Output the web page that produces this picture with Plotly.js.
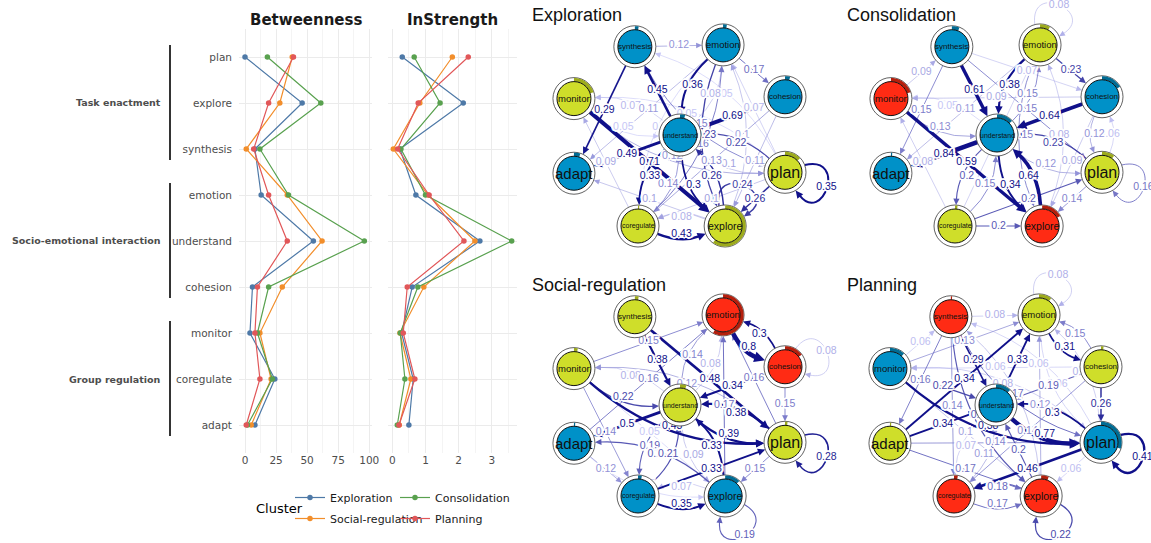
<!DOCTYPE html>
<html><head><meta charset="utf-8">
<script src="https://cdn.plot.ly/plotly-3.0.1.min.js"></script>
<style>html,body{margin:0;padding:0;background:#fff}#chart{width:1151px;height:543px}</style>
</head><body><div id="chart"></div>
<script>
// ---------------- Centrality panel data ----------------
const categories = ['plan','explore','synthesis','emotion','understand','cohesion','monitor','coregulate','adapt'];
const groupLabels = ['Task enactment','Socio-emotional interaction','Group regulation'];
const groupFirst = [0,3,6];
const groupLast = [2,5,8];
const clusterNames = ['Exploration','Social-regulation','Consolidation','Planning'];
const betweenExploration   = [0,46,8,13,55,6,4,24,8];
const betweenConsolidation = [18,61,12,35,96,19,10,22,2];
const betweenSocial        = [38,28,1,34,62,30,12,21,5];
const betweenPlanning      = [39,19,7,19,34,10,8,12,1];
const strengthExploration   = [0.30,2.14,0.23,0.71,2.64,0.60,0.28,0.63,0.50];
const strengthConsolidation = [0.66,1.44,0.26,1.00,3.60,0.77,0.24,0.38,0.15];
const strengthSocial        = [1.81,0.83,0.03,1.08,2.49,0.95,0.23,0.56,0.21];
const strengthPlanning      = [2.29,0.78,0.16,1.11,2.16,0.45,0.33,0.68,0.20];
const betweenTicks = [0,25,50,75,100];
const strengthTicks = [0,1,2,3];

// ---------------- Network data ----------------
const nodeNames = ['synthesis','emotion','cohesion','monitor','understand','adapt','plan','coregulate','explore'];
const layoutX = [-0.43, 0.41, 1, -1.01, 0, -1.01, 1, -0.4, 0.43];
const layoutY = [-0.97, -0.99, -0.42, -0.4, 0, 0.42, 0.41, 1, 1];

const explorationGroups   = [1,1,1,2,1,1,2,2,2];
const consolidationGroups = [1,2,1,3,1,1,2,2,3];
const socialGroups        = [2,3,3,2,2,1,2,1,1];
const planningGroups      = [3,2,2,1,1,2,1,3,3];

const explorationPie   = [0.03,0.03,0.04,0.2,0.04,0.05,0.13,0.01,0.6];
const consolidationPie = [0.06,0.08,0.17,0.2,0.13,0.01,0.1,0.02,0.17];
const socialPie        = [0.03,0.58,0.15,0.03,0.05,0.01,0.02,0.03,0.12];
const planningPie      = [0.01,0.1,0.02,0.12,0.12,0.01,0.3,0.03,0.06];

const explorationEdges = [
 ['synthesis','emotion',0.12],['synthesis','adapt',0.29],['understand','synthesis',0.45],
 ['emotion','understand',0.36],['understand','emotion',0.08],['emotion','cohesion',0.17],
 ['understand','cohesion',0.69],['plan','emotion',0.07],['understand','monitor',0.07],
 ['monitor','understand',0.05],['emotion','adapt',0.11],['coregulate','monitor',0.09],
 ['understand','adapt',0.49],['monitor','explore',0.71],['understand','coregulate',0.33],
 ['coregulate','understand',0.14],['understand','explore',0.3],['explore','understand',0.26],
 ['explore','adapt',0.1],['explore','coregulate',0.08],['coregulate','explore',0.43],
 ['cohesion','coregulate',0.13],['understand','plan',0.1],['plan','understand',0.22],
 ['emotion','explore',0.23],['explore','emotion',0.1],['synthesis','plan',0.15],['plan','synthesis',0.05],
 ['coregulate','emotion',0.16],['emotion','coregulate',0.05],['cohesion','explore',0.11],
 ['plan','explore',0.26],['plan','coregulate',0.1],['monitor','plan',0.12],['plan','monitor',0.05],
 ['plan','plan',0.35],['explore','explore',0.24]
];
const consolidationEdges = [
 ['emotion','emotion',0.08],['monitor','synthesis',0.09],['synthesis','understand',0.61],
 ['emotion','understand',0.38],['understand','emotion',0.15],['synthesis','cohesion',0.07],
 ['cohesion','monitor',0.09],['emotion','adapt',0.11],['synthesis','adapt',0.15],
 ['understand','monitor',0.05],['monitor','understand',0.13],['understand','adapt',0.84],
 ['coregulate','monitor',0.08],['monitor','explore',0.59],['understand','coregulate',0.2],
 ['coregulate','understand',0.15],['understand','explore',0.34],['explore','understand',0.64],
 ['cohesion','understand',0.64],['synthesis','plan',0.15],['emotion','explore',0.15],
 ['explore','emotion',0.08],['plan','understand',0.23],['understand','plan',0.12],
 ['emotion','cohesion',0.23],['cohesion','plan',0.12],['plan','cohesion',0.06],
 ['cohesion','explore',0.09],['coregulate','plan',0.2],['plan','explore',0.14],
 ['coregulate','explore',0.2],['plan','plan',0.16],['coregulate','emotion',0.07]
];
const socialEdges = [
 ['monitor','emotion',0.15],['synthesis','understand',0.38],['emotion','understand',0.14],
 ['understand','emotion',0.08],['emotion','cohesion',0.8],['cohesion','emotion',0.3],
 ['cohesion','cohesion',0.08],['synthesis','plan',0.48],['cohesion','understand',0.34],
 ['plan','emotion',0.16],['understand','monitor',0.08],['monitor','understand',0.22],
 ['adapt','emotion',0.16],['plan','monitor',0.12],['monitor','plan',0.43],
 ['explore','emotion',0.17],['understand','plan',0.39],['plan','understand',0.38],
 ['cohesion','plan',0.15],['understand','adapt',0.5],['monitor','coregulate',0.14],
 ['monitor','explore',0.05],['understand','coregulate',0.19],['coregulate','understand',0.21],
 ['explore','adapt',0.2],['adapt','explore',0.05],['understand','explore',0.09],
 ['explore','understand',0.33],['adapt','coregulate',0.12],['coregulate','plan',0.33],
 ['plan','explore',0.15],['coregulate','explore',0.35],['explore','coregulate',0.07],
 ['explore','explore',0.19],['plan','plan',0.28]
];
const planningEdges = [
 ['emotion','emotion',0.08],['synthesis','emotion',0.08],['monitor','synthesis',0.06],
 ['monitor','emotion',0.13],['synthesis','understand',0.29],['understand','emotion',0.33],
 ['emotion','cohesion',0.31],['cohesion','emotion',0.15],['cohesion','monitor',0.06],
 ['plan','monitor',0.08],['monitor','plan',0.38],['synthesis','adapt',0.16],
 ['adapt','emotion',0.34],['monitor','understand',0.22],['synthesis','coregulate',0.14],
 ['synthesis','plan',0.17],['plan','synthesis',0.06],['cohesion','understand',0.19],
 ['emotion','plan',0.06],['plan','emotion',0.08],['explore','emotion',0.12],
 ['understand','plan',0.77],['plan','understand',0.3],['cohesion','plan',0.26],
 ['plan','plan',0.41],['explore','understand',0.2],['synthesis','explore',0.2],
 ['explore','synthesis',0.1],['adapt','understand',0.34],['monitor','explore',0.1],
 ['understand','coregulate',0.07],['coregulate','understand',0.11],['adapt','plan',0.14],
 ['cohesion','coregulate',0.14],['adapt','explore',0.17],['plan','coregulate',0.46],
 ['plan','explore',0.06],['coregulate','explore',0.17],['explore','coregulate',0.18],
 ['explore','explore',0.22]
];

// ---------------- Styles ----------------
const W = 1151, H = 543;
const lineColors = {'Exploration':'#4E79A7','Consolidation':'#59A14F','Social-regulation':'#F28E2B','Planning':'#E15759'};
const groupFill = {1:'#0091C8', 2:'#CFDE2A', 3:'#FF2B14'};
const groupRing = {1:'#006C94', 2:'#9DAB1C', 3:'#B41F0D'};
const nodeFont = {plan:16, adapt:15, explore:10.5, monitor:9.5, emotion:9.5, cohesion:8, synthesis:8, understand:7, coregulate:7};
const SX = 105, SY = 91, R_OUT = 21, R_IN = 17;
const NETFONT = 'Liberation Sans, Arial, sans-serif';
const GGFONT = 'DejaVu Sans, sans-serif';
const HALO = '-1px -1px 0 #fff, 1px -1px 0 #fff, -1px 1px 0 #fff, 1px 1px 0 #fff, 0 -2px 0 #fff, 0 2px 0 #fff, -2px 0 0 #fff, 2px 0 0 #fff, -2px -1px 0 #fff, 2px 1px 0 #fff, -2px 1px 0 #fff, 2px -1px 0 #fff';

const traces = [];
const shapes = [];
const annotations = [];

// ---------------- Left panel ----------------
const seriesB = {'Exploration':betweenExploration,'Consolidation':betweenConsolidation,'Social-regulation':betweenSocial,'Planning':betweenPlanning};
const seriesS = {'Exploration':strengthExploration,'Consolidation':strengthConsolidation,'Social-regulation':strengthSocial,'Planning':strengthPlanning};
clusterNames.forEach((c)=>{
  const legendId = (c==='Exploration'||c==='Social-regulation') ? 'legend' : 'legend2';
  traces.push({type:'scatter', mode:'lines+markers', x:seriesB[c], y:categories, xaxis:'x', yaxis:'y',
    name:c, legend:legendId, legendgroup:c, showlegend:true, line:{color:lineColors[c], width:1.2}, marker:{color:lineColors[c], size:5.5}, hoverinfo:'x+y+name'});
  traces.push({type:'scatter', mode:'lines+markers', x:seriesS[c], y:categories, xaxis:'x2', yaxis:'y2',
    name:c, showlegend:false, line:{color:lineColors[c], width:1.2}, marker:{color:lineColors[c], size:5.5}, hoverinfo:'x+y+name'});
});

const yTop = 29.4, yBot = 452.6;
const gridMajor = '#EBEBEB', gridMinor = '#F4F4F4';
const tickFont = {family:GGFONT, size:10.5, color:'#4D4D4D'};

annotations.push({xref:'paper', yref:'paper', x:305.5/W, y:1-20/H, text:'<b>Betweenness</b>', showarrow:false,
  font:{family:GGFONT, size:15, color:'#1A1A1A'}, xanchor:'center', yanchor:'middle'});
annotations.push({xref:'paper', yref:'paper', x:452.5/W, y:1-20/H, text:'<b>InStrength</b>', showarrow:false,
  font:{family:GGFONT, size:15, color:'#1A1A1A'}, xanchor:'center', yanchor:'middle'});
groupLabels.forEach((g,i)=>{
  const mid = (groupFirst[i]+groupLast[i])/2;
  annotations.push({xref:'paper', yref:'y', x:163/W, y:mid, text:'<b>'+g+'</b>', showarrow:false,
    font:{family:GGFONT, size:9.5, color:'#4D4D4D'}, xanchor:'right', yanchor:'middle'});
  shapes.push({type:'line', xref:'paper', yref:'y', x0:170/W, x1:170/W, y0:groupFirst[i]-0.26, y1:groupLast[i]+0.24,
    line:{color:'#000', width:1.6}});
});
annotations.push({xref:'paper', yref:'paper', x:279/W, y:1-508/H, text:'Cluster', showarrow:false,
  font:{family:GGFONT, size:13, color:'#000'}, xanchor:'center', yanchor:'middle'});

// ---------------- Networks ----------------
const networks = [
  {title:'Exploration', edges:explorationEdges, groups:explorationGroups, pie:explorationPie, cx:680, cy:135, tx:530, ty:15, loopAngle:{explore:-67}},
  {title:'Consolidation', edges:consolidationEdges, groups:consolidationGroups, pie:consolidationPie, cx:997, cy:135, tx:845, ty:15, loopAngle:{}},
  {title:'Social-regulation', edges:socialEdges, groups:socialGroups, pie:socialPie, cx:680, cy:405, tx:530, ty:285, loopAngle:{}},
  {title:'Planning', edges:planningEdges, groups:planningGroups, pie:planningPie, cx:996, cy:405, tx:845, ty:285, loopAngle:{}}
];

function edgeColor(w){
  const t = Math.max(0, Math.min(1, (w-0.04)/0.26));
  const c0=[205,205,250], c1=[16,16,138];
  const c = c0.map((v,i)=>Math.round(v+(c1[i]-v)*t));
  return 'rgb('+c.join(',')+')';
}
function edgeWidth(w){ return 0.6 + 5.5*Math.max(0, w-0.1); }
function f(v){ return v.toFixed(2); }
function pos(name){ const i = nodeNames.indexOf(name); return [layoutX[i]*SX, layoutY[i]*SY]; }

const layout = {
  width:W, height:H, margin:{l:0,r:0,t:0,b:0}, paper_bgcolor:'#fff', plot_bgcolor:'rgba(0,0,0,0)',
  showlegend:true, hovermode:'closest',
  xaxis:{domain:[239/W,372/W], range:[-4.83,102.2], anchor:'y', tickvals:betweenTicks, showgrid:true, gridcolor:gridMajor, gridwidth:1,
    minor:{dtick:12.5, tick0:0, showgrid:true, gridcolor:gridMinor, gridwidth:0.8}, zeroline:false, showline:false, ticks:'',
    tickfont:tickFont, fixedrange:true},
  xaxis2:{domain:[388/W,517/W], range:[-0.13,3.76], anchor:'y2', tickvals:strengthTicks, showgrid:true, gridcolor:gridMajor, gridwidth:1,
    minor:{dtick:0.5, tick0:0, showgrid:true, gridcolor:gridMinor, gridwidth:0.8}, zeroline:false, showline:false, ticks:'',
    tickfont:tickFont, fixedrange:true},
  yaxis:{domain:[1-yBot/H, 1-yTop/H], type:'category', categoryorder:'array', categoryarray:categories, range:[8.6,-0.6],
    anchor:'x', showgrid:true, gridcolor:gridMajor, zeroline:false, showline:false, ticks:'', ticklabelstandoff:6, tickfont:tickFont, fixedrange:true},
  yaxis2:{domain:[1-yBot/H, 1-yTop/H], type:'category', categoryorder:'array', categoryarray:categories, range:[8.6,-0.6],
    anchor:'x2', showgrid:true, gridcolor:gridMajor, zeroline:false, showline:false, ticks:'', showticklabels:false, fixedrange:true},
  legend:{orientation:'v', x:290/W, y:1-483/H, xanchor:'left', yanchor:'top', itemwidth:30, tracegroupgap:2,
    font:{family:GGFONT, size:11, color:'#1A1A1A'}, bgcolor:'rgba(0,0,0,0)', itemclick:false, itemdoubleclick:false},
  legend2:{orientation:'v', x:395/W, y:1-483/H, xanchor:'left', yanchor:'top', itemwidth:30, tracegroupgap:2,
    font:{family:GGFONT, size:11, color:'#1A1A1A'}, bgcolor:'rgba(0,0,0,0)', itemclick:false, itemdoubleclick:false},
  shapes:shapes, annotations:annotations
};

networks.forEach((net, k)=>{
  const n = k+3, xr = 'x'+n, yr = 'y'+n;
  layout['xaxis'+n] = {domain:[(net.cx-150)/W, (net.cx+150)/W], range:[-150,150], visible:false, fixedrange:true, anchor:yr};
  layout['yaxis'+n] = {domain:[1-(net.cy+135)/H, 1-(net.cy-135)/H], range:[135,-135], visible:false, fixedrange:true, anchor:xr};
  annotations.push({xref:'paper', yref:'paper', x:net.tx/W, y:1-net.ty/H, text:net.title, showarrow:false,
    font:{family:NETFONT, size:18, color:'#111'}, xanchor:'left', yanchor:'middle'});

  const keys = new Set(net.edges.map(e=>e[0]+'>'+e[1]));
  const sorted = net.edges.slice().sort((a,b)=>a[2]-b[2]);
  const lx = [], ly = [], lt = [], lc = [];
  sorted.forEach(e=>{
    const [from,to,w] = e;
    const col = edgeColor(w), lw = edgeWidth(w);
    const alen = 5 + 1.3*lw, ahw = 2.3 + 0.7*lw;
    let path, tip, dir, lab;
    if (from === to){
      const [x,y] = pos(from);
      const th = (net.loopAngle[from] !== undefined) ? net.loopAngle[from]*Math.PI/180 : Math.atan2(y, x);
      const u = a => [Math.cos(a), Math.sin(a)];
      const d40 = 40*Math.PI/180, d35 = 35*Math.PI/180;
      const P0 = [x+R_OUT*u(th-d40)[0], y+R_OUT*u(th-d40)[1]];
      const P1 = [x+3.1*R_OUT*u(th-d35)[0], y+3.1*R_OUT*u(th-d35)[1]];
      const P2 = [x+3.1*R_OUT*u(th+d35)[0], y+3.1*R_OUT*u(th+d35)[1]];
      const P3 = [x+R_OUT*u(th+d40)[0], y+R_OUT*u(th+d40)[1]];
      let dx = P3[0]-P2[0], dy = P3[1]-P2[1]; const L = Math.hypot(dx,dy); dx/=L; dy/=L;
      tip = P3; dir = [dx,dy];
      const base = [P3[0]-dx*alen*0.8, P3[1]-dy*alen*0.8];
      path = 'M'+f(P0[0])+','+f(P0[1])+' C'+f(P1[0])+','+f(P1[1])+' '+f(P2[0])+','+f(P2[1])+' '+f(base[0])+','+f(base[1]);
      lab = [(P0[0]+3*P1[0]+3*P2[0]+P3[0])/8, (P0[1]+3*P1[1]+3*P2[1]+P3[1])/8];
    } else {
      const [x1,y1] = pos(from), [x2,y2] = pos(to);
      const dx = x2-x1, dy = y2-y1, L = Math.hypot(dx,dy), ux = dx/L, uy = dy/L;
      const px = -uy, py = ux;
      const off = keys.has(to+'>'+from) ? 0.2*L : 0;
      const C = [(x1+x2)/2 + px*off, (y1+y2)/2 + py*off];
      const toward = (ax,ay,bx,by,r)=>{ const vx=bx-ax, vy=by-ay, l=Math.hypot(vx,vy); return [ax+vx/l*r, ay+vy/l*r]; };
      const S = toward(x1,y1,C[0],C[1],R_OUT);
      const T = toward(x2,y2,C[0],C[1],R_OUT);
      let ax = T[0]-C[0], ay = T[1]-C[1]; const al = Math.hypot(ax,ay); ax/=al; ay/=al;
      tip = T; dir = [ax,ay];
      const base = [T[0]-ax*alen*0.8, T[1]-ay*alen*0.8];
      path = off ? 'M'+f(S[0])+','+f(S[1])+' Q'+f(C[0])+','+f(C[1])+' '+f(base[0])+','+f(base[1])
                 : 'M'+f(S[0])+','+f(S[1])+' L'+f(base[0])+','+f(base[1]);
      lab = [0.25*x1+0.5*C[0]+0.25*x2, 0.25*y1+0.5*C[1]+0.25*y2];
    }
    shapes.push({type:'path', xref:xr, yref:yr, path:path, line:{color:col, width:lw}, layer:'below'});
    const bx = tip[0]-dir[0]*alen, by = tip[1]-dir[1]*alen, qx = -dir[1], qy = dir[0];
    shapes.push({type:'path', xref:xr, yref:yr, fillcolor:col, line:{width:0}, layer:'below',
      path:'M'+f(tip[0])+','+f(tip[1])+' L'+f(bx+qx*ahw)+','+f(by+qy*ahw)+' L'+f(bx-qx*ahw)+','+f(by-qy*ahw)+' Z'});
    lx.push(lab[0]); ly.push(lab[1]); lt.push(String(w)); lc.push(col);
  });
  traces.push({type:'scatter', mode:'text', x:lx, y:ly, text:lt, xaxis:xr, yaxis:yr, showlegend:false, hoverinfo:'skip',
    cliponaxis:false, textposition:'middle center', textfont:{family:NETFONT, size:10.5, color:lc, shadow:HALO}});

  nodeNames.forEach((name,i)=>{
    const [x,y] = pos(name);
    const g = net.groups[i];
    shapes.push({type:'circle', xref:xr, yref:yr, x0:x-R_OUT, x1:x+R_OUT, y0:y-R_OUT, y1:y+R_OUT,
      fillcolor:'#fff', line:{color:'#3A3A3A', width:0.8}, layer:'above'});
    const fr = net.pie[i], steps = Math.max(2, Math.ceil(fr*120));
    const pts = [];
    for (let s=0; s<=steps; s++){ const a = 2*Math.PI*fr*s/steps; pts.push([x+(R_OUT-0.4)*Math.sin(a), y-(R_OUT-0.4)*Math.cos(a)]); }
    for (let s=steps; s>=0; s--){ const a = 2*Math.PI*fr*s/steps; pts.push([x+R_IN*Math.sin(a), y-R_IN*Math.cos(a)]); }
    shapes.push({type:'path', xref:xr, yref:yr, fillcolor:groupRing[g], line:{width:0}, layer:'above',
      path:'M'+pts.map(p=>f(p[0])+','+f(p[1])).join(' L')+' Z'});
    shapes.push({type:'circle', xref:xr, yref:yr, x0:x-R_IN, x1:x+R_IN, y0:y-R_IN, y1:y+R_IN,
      fillcolor:groupFill[g], line:{color:'#111', width:1}, layer:'above'});
  });
  nodeNames.forEach((name)=>{
    const [x,y] = pos(name);
    annotations.push({xref:xr, yref:yr, x:x, y:y, text:name, showarrow:false,
      font:{family:NETFONT, size:nodeFont[name], color:'#111'}, xanchor:'center', yanchor:'middle'});
  });
});

Plotly.newPlot('chart', traces, layout, {displayModeBar:false, responsive:false});
</script>
</body></html>
